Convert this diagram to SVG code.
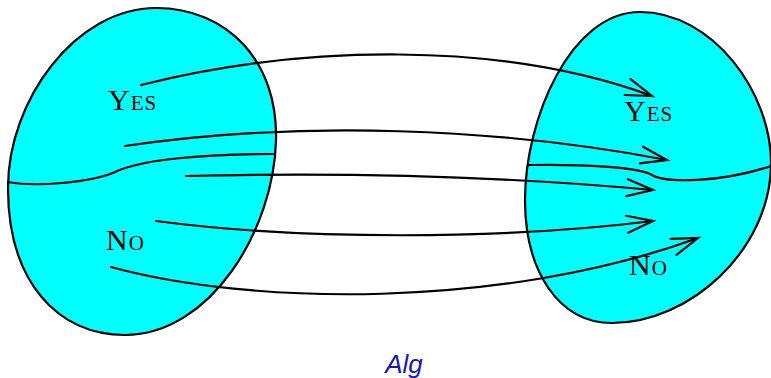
<svg xmlns="http://www.w3.org/2000/svg" width="771" height="378" viewBox="0 0 771 378">
<style>
.blob{fill:#00ffff;stroke:#000;stroke-width:2.2}
.line{fill:none;stroke:#000;stroke-width:2.2;stroke-linecap:round}
.arr{fill:none;stroke:#000;stroke-width:2.2;stroke-linecap:round;marker-end:url(#head)}
.lbl{font-family:"Liberation Serif",serif;font-size:30px;font-variant:small-caps;letter-spacing:1px;fill:#000}
.title{font-family:"Liberation Sans",sans-serif;font-style:italic;font-size:26px;fill:#1a1aaa}
</style>
<defs>
<marker id="head" markerUnits="userSpaceOnUse" markerWidth="40" markerHeight="30" viewBox="-30 -15 40 30" refX="0" refY="0" orient="auto">
<path d="M -26 -8.5 L 0 0 L -26 8.5" fill="none" stroke="#000" stroke-width="2.2" stroke-linecap="round" stroke-linejoin="miter"/>
</marker>
</defs>
<g id="left-set">
<path class="blob" d="M 156 8 C 228 8 278 62 276 140 C 274 230 210 335 125 335 C 58 335 8 282 8 188 C 8 100 76 8 156 8 Z"/>
<path class="line" d="M 8 182 C 35 187 90 183 115 172 C 140 160 200 154 274 154"/>
<text class="lbl" x="108" y="110">Yes</text>
<text class="lbl" x="106" y="250">No</text>
</g>
<g id="right-set">
<path class="blob" d="M 640 12 C 712 12 772 92 771 165 C 770 250 690 323 612 323 C 558 323 525 270 525 200 C 525 120 570 12 640 12 Z"/>
<path class="line" d="M 529 165 C 580 164 640 167 652 175 C 665 183 720 183 771 166"/>
<text class="lbl" x="624" y="121">Yes</text>
<text class="lbl" x="629" y="275">No</text>
</g>
<g id="connectors">
<path class="arr" d="M 141 85 C 300 45 500 40 652 96"/>
<path class="arr" d="M 125 146 C 300 120 500 128 667 160"/>
<path class="arr" d="M 186 176 C 350 172 500 176 653 190"/>
<path class="arr" d="M 156 221 C 300 240 500 240 653 221"/>
<path class="arr" d="M 111 267 C 250 305 500 310 698 238"/>
</g>
<text class="title" x="404" y="373" text-anchor="middle">Alg</text>
</svg>
